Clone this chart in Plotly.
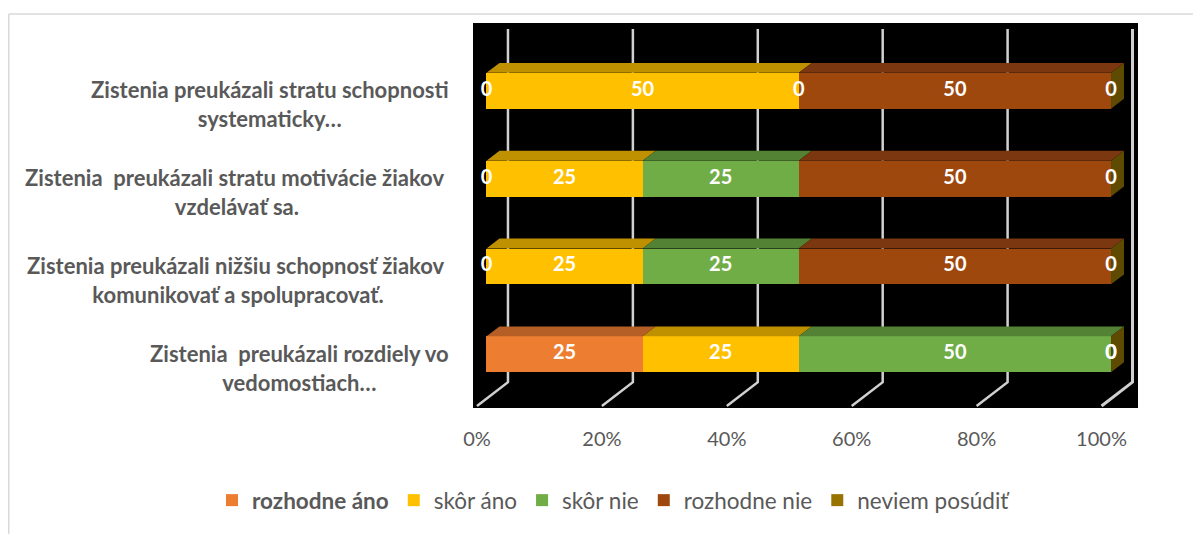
import plotly.graph_objects as go

# ---------------- data ----------------
# categories from bottom to top
label_lines = [
    ["Zistenia\u00a0 preukázali rozdiely vo", "vedomostiach…"],
    ["Zistenia preukázali nižšiu schopnosť žiakov\u00a0", "komunikovať a spolupracovať."],
    ["Zistenia\u00a0 preukázali stratu motivácie žiakov\u00a0", "vzdelávať sa."],
    ["Zistenia preukázali stratu schopnosti", "systematicky…"],
]
series_names = ["rozhodne áno", "skôr áno", "skôr nie", "rozhodne nie", "neviem posúdiť"]
rozhodne_ano = [25, 0, 0, 0]
skor_ano = [25, 25, 25, 50]
skor_nie = [50, 25, 25, 0]
rozhodne_nie = [0, 50, 50, 50]
neviem_posudit = [0, 0, 0, 0]
tick_values = [0, 20, 40, 60, 80, 100]
tick_labels = ["0%", "20%", "40%", "60%", "80%", "100%"]

series_values = [rozhodne_ano, skor_ano, skor_nie, rozhodne_nie, neviem_posudit]
front_colors = ["#ED7D31", "#FFC000", "#70AD47", "#9E480E", "#997300"]
top_colors = ["#B55F26", "#BF9000", "#548235", "#7A3710", "#735600"]
side_color = "#5E4A00"

# ---------------- geometry ----------------
PAGE_OFF = 8                      # default body margin of the html page
W, H = 1201 - PAGE_OFF, 534 - PAGE_OFF
ML, MR, MT, MB = 473 - PAGE_OFF, 63, 23 - PAGE_OFF, 124
PW, PH = W - ML - MR, H - MT - MB
X_RANGE = [-2.16, 104.32]
Y_RANGE = [-0.6115, 3.7712]
BAR_W = 0.408
DEPTH_X, DEPTH_Y = 2.08, 0.113      # bar depth offset
WALL_X = 3.44                        # back wall offset
GRID_TOP, GRID_FLOOR = 3.703, -0.317
FLOOR_FRONT_X, FLOOR_FRONT_Y = -1.52, -0.589
FONT = "Lato"


def px_x(p):
    return (p - PAGE_OFF - ML) / PW


def px_y(p):
    return (H - MB - (p - PAGE_OFF)) / PH


ypos = list(range(len(label_lines)))

fig = go.Figure()

# front faces
for name, vals, col in zip(series_names, series_values, front_colors):
    fig.add_trace(go.Bar(
        y=ypos, x=vals, orientation="h", width=BAR_W,
        name=("<b>%s</b>" % name) if name == "rozhodne áno" else name,
        marker=dict(color=col, line=dict(width=0)),
        hoverinfo="skip",
    ))

# top faces, side faces and value labels, derived from the data
cum = [0.0] * len(ypos)
label_x, label_y, label_t = [], [], []
for s, (vals, tcol) in enumerate(zip(series_values, top_colors)):
    xs, ys = [], []
    for i, v in enumerate(vals):
        x0, x1 = cum[i], cum[i] + v
        yt = ypos[i] + BAR_W / 2
        if v > 0:
            xs += [x0, x1, x1 + DEPTH_X, x0 + DEPTH_X, x0, None]
            ys += [yt, yt, yt + DEPTH_Y, yt + DEPTH_Y, yt, None]
        label_x.append((x0 + x1) / 2)
        label_y.append(ypos[i])
        label_t.append(str(v))
        cum[i] = x1
    if xs:
        fig.add_trace(go.Scatter(x=xs, y=ys, mode="lines", fill="toself",
                                 fillcolor=tcol, line=dict(width=0),
                                 showlegend=False, hoverinfo="skip"))
sx, sy = [], []
for i in range(len(ypos)):
    xe = cum[i]
    yt, yb = ypos[i] + BAR_W / 2, ypos[i] - BAR_W / 2
    sx += [xe, xe + DEPTH_X, xe + DEPTH_X, xe, xe, None]
    sy += [yb, yb + DEPTH_Y, yt + DEPTH_Y, yt, yb, None]
fig.add_trace(go.Scatter(x=sx, y=sy, mode="lines", fill="toself",
                         fillcolor=side_color, line=dict(width=0),
                         showlegend=False, hoverinfo="skip"))

fig.add_trace(go.Scatter(
    x=label_x, y=label_y, text=label_t, mode="text",
    textfont=dict(family=FONT, size=20, color="white", weight="bold"),
    showlegend=False, hoverinfo="skip"))

# gridlines (3D back wall + floor)
shapes = []
for g in tick_values:
    bx = g + WALL_X
    fx = g + FLOOR_FRONT_X
    shapes.append(dict(
        type="path", xref="x", yref="y", layer="below",
        path="M %f,%f L %f,%f L %f,%f" % (bx, GRID_TOP, bx, GRID_FLOOR, fx, FLOOR_FRONT_Y),
        line=dict(color="#D0D0D0", width=3 if g == tick_values[-1] else 2.5),
    ))
# chart-area border (top and left)
shapes.append(dict(type="line", xref="paper", yref="paper",
                   x0=px_x(8.75), x1=px_x(1210), y0=px_y(14), y1=px_y(14),
                   line=dict(color="#D9D9D9", width=1.5)))
shapes.append(dict(type="line", xref="paper", yref="paper",
                   x0=px_x(8.75), x1=px_x(8.75), y0=px_y(14), y1=px_y(545),
                   line=dict(color="#D9D9D9", width=1.5)))

annotations = []
for i, lines in enumerate(label_lines):
    annotations.append(dict(
        xref="paper", yref="y", x=px_x(451), y=ypos[i] - 0.155,
        xanchor="right", yanchor="middle", align="center", showarrow=False,
        text="<br>".join(lines),
        font=dict(family=FONT, size=22, color="#595959", weight="bold"),
    ))

fig.update_layout(
    width=W, height=H,
    margin=dict(l=ML, r=MR, t=MT, b=MB),
    paper_bgcolor="white", plot_bgcolor="black",
    barmode="stack", bargap=0,
    shapes=shapes, annotations=annotations,
    showlegend=True,
    legend=dict(orientation="h", x=px_x(212), y=px_y(503),
                xanchor="left", yanchor="middle", traceorder="normal",
                font=dict(family=FONT, size=22.5, color="#595959"),
                itemclick=False, bgcolor="rgba(0,0,0,0)"),
    xaxis=dict(range=X_RANGE, showgrid=False, zeroline=False, showline=False,
               tickmode="array",
               tickvals=[g + FLOOR_FRONT_X for g in tick_values],
               ticktext=tick_labels, ticks="outside", ticklen=13,
               tickcolor="rgba(0,0,0,0)",
               tickfont=dict(family=FONT, size=20, color="#595959"),
               fixedrange=True),
    yaxis=dict(range=Y_RANGE, showgrid=False, zeroline=False, showline=False,
               showticklabels=False, fixedrange=True),
)

fig.write_html("out.html")
